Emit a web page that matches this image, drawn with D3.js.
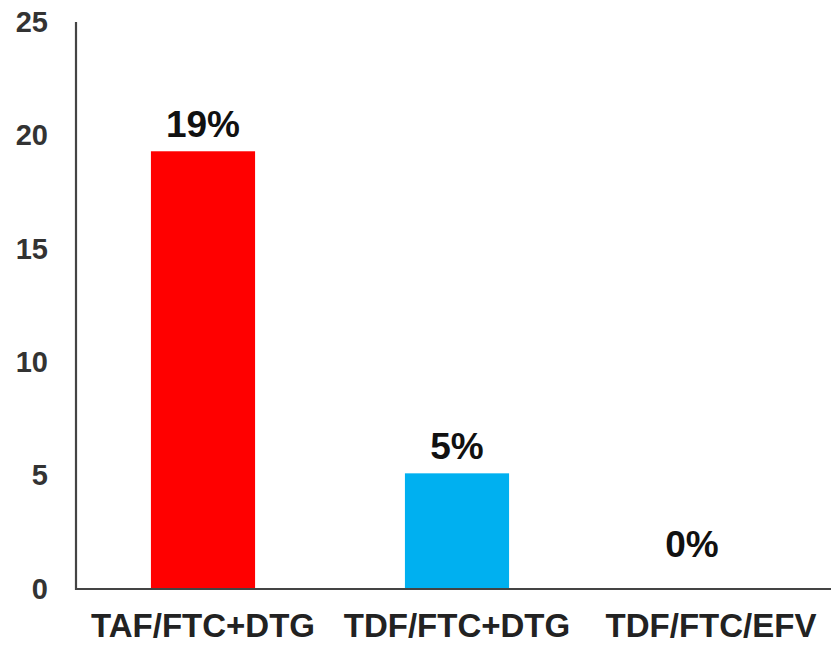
<!DOCTYPE html>
<html>
<head>
<meta charset="utf-8">
<script src="https://cdn.jsdelivr.net/npm/d3@7"></script>
<style>
  html, body { margin: 0; padding: 0; background: #fff; }
  svg { display: block; font-family: "Liberation Sans", Arial, sans-serif; }
</style>
</head>
<body>
<svg id="chart" width="831" height="645"></svg>
<script>
// Regimens and the share of participants (%) for each
const categories = ["TAF/FTC+DTG", "TDF/FTC+DTG", "TDF/FTC/EFV"];
const values = [19.3, 5.1, 0];
const barColors = ["#ff0000", "#00b0f0", "#00b0f0"];
const yTicks = [0, 5, 10, 15, 20, 25];

const svg = d3.select("#chart");
const W = 831;
const plotLeft = 76, plotTop = 22, plotBottom = 589;

const y = d3.scaleLinear().domain([0, 25]).range([plotBottom, plotTop]);
const x = d3.scaleBand()
  .domain(categories)
  .range([plotLeft, 838])
  .paddingInner(0.59)
  .paddingOuter(0.295);

// bars
svg.append("g").selectAll("rect")
  .data(values)
  .join("rect")
  .attr("x", (d, i) => x(categories[i]))
  .attr("width", x.bandwidth())
  .attr("y", d => y(d))
  .attr("height", d => y(0) - y(d))
  .attr("fill", (d, i) => barColors[i]);

// value labels above bars
svg.append("g").selectAll("text")
  .data(values)
  .join("text")
  .attr("x", (d, i) => x(categories[i]) + x.bandwidth() / 2 + (d === 0 ? -19 : 0))
  .attr("y", d => d === 0 ? y(d) - 32 : y(d) - 14)
  .attr("text-anchor", "middle")
  .attr("font-size", 37)
  .attr("font-weight", "bold")
  .attr("fill", "#111")
  .text(d => d3.format(".0f")(d) + "%");

// y axis
const yAxis = svg.append("g")
  .attr("transform", `translate(${plotLeft},0)`)
  .call(d3.axisLeft(y).tickValues(yTicks).tickSize(0).tickPadding(28));
yAxis.select(".domain").remove();
yAxis.selectAll("text")
  .attr("font-size", 29)
  .attr("font-weight", "bold")
  .attr("fill", "#333")
  .attr("font-family", "Liberation Sans, Arial, sans-serif");
svg.append("line")
  .attr("x1", plotLeft).attr("x2", plotLeft)
  .attr("y1", y(25)).attr("y2", y(0) + 1)
  .attr("stroke", "#444").attr("stroke-width", 2.2);

// x axis
const xAxis = svg.append("g")
  .attr("transform", `translate(0,${plotBottom})`)
  .call(d3.axisBottom(x).tickSize(0));
xAxis.select(".domain").remove();
xAxis.selectAll("text")
  .attr("y", 48)
  .attr("dy", 0)
  .attr("font-size", 33)
  .attr("font-weight", "bold")
  .attr("fill", "#222")
  .attr("font-family", "Liberation Sans, Arial, sans-serif");
svg.append("line")
  .attr("x1", plotLeft - 1).attr("x2", W)
  .attr("y1", y(0)).attr("y2", y(0))
  .attr("stroke", "#444").attr("stroke-width", 2.2);
</script>
</body>
</html>
